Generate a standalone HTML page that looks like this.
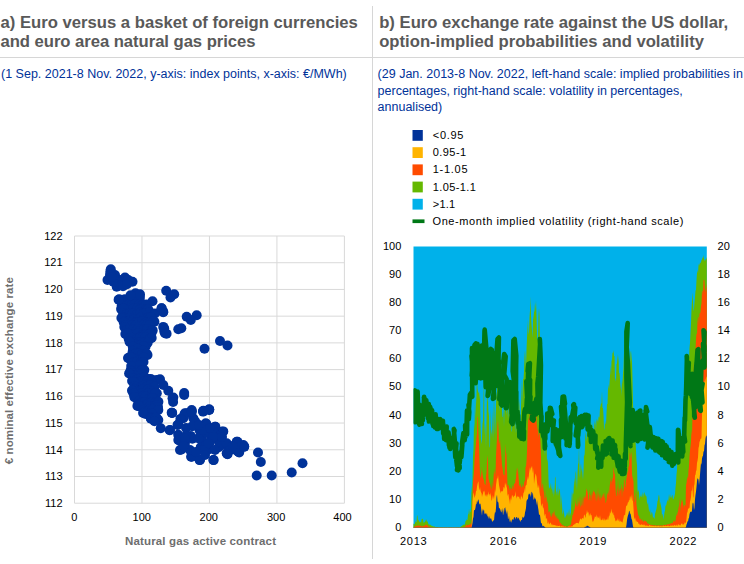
<!DOCTYPE html>
<html lang="en"><head><meta charset="utf-8"><title>Chart</title>
<style>html,body{margin:0;padding:0;background:#fff}svg{display:block}text{font-family:"Liberation Sans",Arial,sans-serif}.t{font-weight:bold;font-size:16.67px;fill:#595959}.s{font-size:12.5px;fill:#003299}.a{font-size:11px;fill:#000}.b{font-size:11.5px;font-weight:bold;fill:#6e6e6e}</style></head><body>
<svg width="744" height="564" viewBox="0 0 744 564">
<rect width="744" height="564" fill="#fff"/>
<rect x="0" y="57" width="744" height="1" fill="#D6D6D6"/>
<rect x="372" y="6" width="1" height="553" fill="#D6D6D6"/>
<text x="0.5" y="28" class="t">a) Euro versus a basket of foreign currencies</text>
<text x="0.5" y="46.5" class="t" textLength="255" lengthAdjust="spacing">and euro area natural gas prices</text>
<text x="379.2" y="28" class="t">b) Euro exchange rate against the US dollar,</text>
<text x="379.2" y="46.5" class="t">option-implied probabilities and volatility</text>
<text x="1" y="78" class="s">(1 Sep. 2021-8 Nov. 2022, y-axis: index points, x-axis: €/MWh)</text>
<text x="377.6" y="78" class="s">(29 Jan. 2013-8 Nov. 2022, left-hand scale: implied probabilities in</text>
<text x="377.6" y="94.6" class="s">percentages, right-hand scale: volatility in percentages,</text>
<text x="377.6" y="110.6" class="s">annualised)</text>
<rect x="74.50" y="235.50" width="269.90" height="1" fill="#D9D9D9"/>
<text x="62.6" y="239.7" class="a" text-anchor="end">122</text>
<rect x="74.50" y="262.22" width="269.90" height="1" fill="#D9D9D9"/>
<text x="62.6" y="266.4" class="a" text-anchor="end">121</text>
<rect x="74.50" y="288.94" width="269.90" height="1" fill="#D9D9D9"/>
<text x="62.6" y="293.1" class="a" text-anchor="end">120</text>
<rect x="74.50" y="315.66" width="269.90" height="1" fill="#D9D9D9"/>
<text x="62.6" y="319.9" class="a" text-anchor="end">119</text>
<rect x="74.50" y="342.38" width="269.90" height="1" fill="#D9D9D9"/>
<text x="62.6" y="346.6" class="a" text-anchor="end">118</text>
<rect x="74.50" y="369.10" width="269.90" height="1" fill="#D9D9D9"/>
<text x="62.6" y="373.3" class="a" text-anchor="end">117</text>
<rect x="74.50" y="395.82" width="269.90" height="1" fill="#D9D9D9"/>
<text x="62.6" y="400.0" class="a" text-anchor="end">116</text>
<rect x="74.50" y="422.54" width="269.90" height="1" fill="#D9D9D9"/>
<text x="62.6" y="426.7" class="a" text-anchor="end">115</text>
<rect x="74.50" y="449.26" width="269.90" height="1" fill="#D9D9D9"/>
<text x="62.6" y="453.5" class="a" text-anchor="end">114</text>
<rect x="74.50" y="475.98" width="269.90" height="1" fill="#D9D9D9"/>
<text x="62.6" y="480.2" class="a" text-anchor="end">113</text>
<rect x="74.50" y="502.70" width="269.90" height="1" fill="#D9D9D9"/>
<text x="62.6" y="506.9" class="a" text-anchor="end">112</text>
<rect x="74.00" y="236.00" width="1" height="267.20" fill="#D9D9D9"/>
<text x="74.2" y="520.6" class="a" text-anchor="middle">0</text>
<rect x="141.47" y="236.00" width="1" height="267.20" fill="#D9D9D9"/>
<text x="141.7" y="520.6" class="a" text-anchor="middle">100</text>
<rect x="208.95" y="236.00" width="1" height="267.20" fill="#D9D9D9"/>
<text x="208.7" y="520.6" class="a" text-anchor="middle">200</text>
<rect x="276.42" y="236.00" width="1" height="267.20" fill="#D9D9D9"/>
<text x="276.1" y="520.6" class="a" text-anchor="middle">300</text>
<rect x="343.90" y="236.00" width="1" height="267.20" fill="#D9D9D9"/>
<text x="342.5" y="520.6" class="a" text-anchor="middle">400</text>
<g fill="#003299">
<circle cx="110.8" cy="269.2" r="5"/>
<circle cx="107.5" cy="280.0" r="5"/>
<circle cx="110.0" cy="275.0" r="5"/>
<circle cx="116.7" cy="286.7" r="5"/>
<circle cx="125.0" cy="277.5" r="5"/>
<circle cx="120.0" cy="280.0" r="5"/>
<circle cx="132.5" cy="281.7" r="5"/>
<circle cx="128.3" cy="280.0" r="5"/>
<circle cx="113.3" cy="281.7" r="5"/>
<circle cx="115.0" cy="275.0" r="5"/>
<circle cx="121.7" cy="285.0" r="5"/>
<circle cx="166.2" cy="290.8" r="5"/>
<circle cx="174.2" cy="294.2" r="5"/>
<circle cx="170.5" cy="297.5" r="5"/>
<circle cx="152.5" cy="301.2" r="5"/>
<circle cx="161.7" cy="308.3" r="5"/>
<circle cx="163.3" cy="311.7" r="5"/>
<circle cx="186.7" cy="316.7" r="5"/>
<circle cx="196.7" cy="315.3" r="5"/>
<circle cx="190.8" cy="320.0" r="5"/>
<circle cx="181.3" cy="328.3" r="5"/>
<circle cx="178.3" cy="329.2" r="5"/>
<circle cx="164.2" cy="328.3" r="5"/>
<circle cx="165.0" cy="333.3" r="5"/>
<circle cx="204.5" cy="348.8" r="5"/>
<circle cx="128.0" cy="358.0" r="5"/>
<circle cx="147.5" cy="355.0" r="5"/>
<circle cx="160.0" cy="379.2" r="5"/>
<circle cx="156.7" cy="380.0" r="5"/>
<circle cx="184.2" cy="393.0" r="5"/>
<circle cx="173.3" cy="397.5" r="5"/>
<circle cx="168.3" cy="390.8" r="5"/>
<circle cx="163.3" cy="385.0" r="5"/>
<circle cx="171.7" cy="412.8" r="5"/>
<circle cx="191.7" cy="410.0" r="5"/>
<circle cx="186.7" cy="413.3" r="5"/>
<circle cx="203.3" cy="410.8" r="5"/>
<circle cx="209.2" cy="409.2" r="5"/>
<circle cx="183.3" cy="418.3" r="5"/>
<circle cx="193.3" cy="418.3" r="5"/>
<circle cx="172.5" cy="398.3" r="5"/>
<circle cx="184.2" cy="395.0" r="5"/>
<circle cx="172.2" cy="413.0" r="5"/>
<circle cx="203.3" cy="411.2" r="5"/>
<circle cx="209.2" cy="409.7" r="5"/>
<circle cx="191.7" cy="411.7" r="5"/>
<circle cx="184.2" cy="415.0" r="5"/>
<circle cx="160.8" cy="428.3" r="5"/>
<circle cx="170.0" cy="430.0" r="5"/>
<circle cx="150.8" cy="417.5" r="5"/>
<circle cx="158.3" cy="420.0" r="5"/>
<circle cx="180.0" cy="450.0" r="5"/>
<circle cx="178.3" cy="440.0" r="5"/>
<circle cx="177.5" cy="425.0" r="5"/>
<circle cx="191.7" cy="456.7" r="5"/>
<circle cx="200.0" cy="460.0" r="5"/>
<circle cx="213.3" cy="460.0" r="5"/>
<circle cx="226.7" cy="453.3" r="5"/>
<circle cx="236.7" cy="441.7" r="5"/>
<circle cx="238.3" cy="451.7" r="5"/>
<circle cx="243.3" cy="445.0" r="5"/>
<circle cx="221.7" cy="431.7" r="5"/>
<circle cx="215.0" cy="426.7" r="5"/>
<circle cx="205.8" cy="423.3" r="5"/>
<circle cx="302.5" cy="463.3" r="5"/>
<circle cx="291.7" cy="472.5" r="5"/>
<circle cx="271.7" cy="475.5" r="5"/>
<circle cx="256.7" cy="475.5" r="5"/>
<circle cx="260.8" cy="462.0" r="5"/>
<circle cx="258.0" cy="452.5" r="5"/>
<circle cx="244.2" cy="446.7" r="5"/>
<circle cx="237.5" cy="441.7" r="5"/>
<circle cx="239.2" cy="452.5" r="5"/>
<circle cx="235.8" cy="450.0" r="5"/>
<circle cx="227.5" cy="454.2" r="5"/>
<circle cx="227.5" cy="445.0" r="5"/>
<circle cx="222.5" cy="431.7" r="5"/>
<circle cx="220.0" cy="445.0" r="5"/>
<circle cx="220.0" cy="436.7" r="5"/>
<circle cx="135.5" cy="293.3" r="5"/>
<circle cx="132.2" cy="296.0" r="5"/>
<circle cx="135.5" cy="296.7" r="5"/>
<circle cx="139.9" cy="297.0" r="5"/>
<circle cx="130.6" cy="296.9" r="5"/>
<circle cx="138.4" cy="296.2" r="5"/>
<circle cx="121.9" cy="300.8" r="5"/>
<circle cx="124.8" cy="299.3" r="5"/>
<circle cx="129.0" cy="301.1" r="5"/>
<circle cx="132.3" cy="299.8" r="5"/>
<circle cx="136.4" cy="298.9" r="5"/>
<circle cx="139.6" cy="299.5" r="5"/>
<circle cx="119.2" cy="299.2" r="5"/>
<circle cx="121.7" cy="305.8" r="5"/>
<circle cx="124.9" cy="305.2" r="5"/>
<circle cx="129.0" cy="304.7" r="5"/>
<circle cx="132.3" cy="304.0" r="5"/>
<circle cx="134.9" cy="304.3" r="5"/>
<circle cx="139.3" cy="304.8" r="5"/>
<circle cx="142.1" cy="305.2" r="5"/>
<circle cx="146.3" cy="304.6" r="5"/>
<circle cx="123.5" cy="309.5" r="5"/>
<circle cx="126.0" cy="309.2" r="5"/>
<circle cx="129.8" cy="309.9" r="5"/>
<circle cx="133.6" cy="308.5" r="5"/>
<circle cx="137.4" cy="308.1" r="5"/>
<circle cx="139.9" cy="309.6" r="5"/>
<circle cx="142.8" cy="309.0" r="5"/>
<circle cx="146.1" cy="309.4" r="5"/>
<circle cx="121.1" cy="309.1" r="5"/>
<circle cx="123.3" cy="308.6" r="5"/>
<circle cx="148.1" cy="309.2" r="5"/>
<circle cx="123.1" cy="312.9" r="5"/>
<circle cx="126.9" cy="314.1" r="5"/>
<circle cx="129.8" cy="313.4" r="5"/>
<circle cx="132.5" cy="313.5" r="5"/>
<circle cx="136.8" cy="314.2" r="5"/>
<circle cx="140.5" cy="312.5" r="5"/>
<circle cx="143.2" cy="313.4" r="5"/>
<circle cx="146.0" cy="312.9" r="5"/>
<circle cx="149.7" cy="312.1" r="5"/>
<circle cx="154.9" cy="313.5" r="5"/>
<circle cx="123.4" cy="317.4" r="5"/>
<circle cx="127.2" cy="318.9" r="5"/>
<circle cx="130.1" cy="317.9" r="5"/>
<circle cx="134.3" cy="318.9" r="5"/>
<circle cx="138.1" cy="318.9" r="5"/>
<circle cx="140.6" cy="317.8" r="5"/>
<circle cx="144.2" cy="318.9" r="5"/>
<circle cx="148.5" cy="317.2" r="5"/>
<circle cx="150.7" cy="317.4" r="5"/>
<circle cx="121.4" cy="318.0" r="5"/>
<circle cx="125.1" cy="321.4" r="5"/>
<circle cx="127.6" cy="321.8" r="5"/>
<circle cx="131.6" cy="322.2" r="5"/>
<circle cx="135.9" cy="322.5" r="5"/>
<circle cx="138.6" cy="322.3" r="5"/>
<circle cx="142.3" cy="320.9" r="5"/>
<circle cx="146.0" cy="322.7" r="5"/>
<circle cx="149.4" cy="322.7" r="5"/>
<circle cx="154.4" cy="321.8" r="5"/>
<circle cx="123.7" cy="322.3" r="5"/>
<circle cx="153.4" cy="321.1" r="5"/>
<circle cx="125.5" cy="325.2" r="5"/>
<circle cx="129.1" cy="324.9" r="5"/>
<circle cx="132.0" cy="325.2" r="5"/>
<circle cx="135.6" cy="325.7" r="5"/>
<circle cx="138.8" cy="326.9" r="5"/>
<circle cx="143.2" cy="325.2" r="5"/>
<circle cx="146.0" cy="325.6" r="5"/>
<circle cx="149.6" cy="325.1" r="5"/>
<circle cx="124.3" cy="327.0" r="5"/>
<circle cx="126.9" cy="330.0" r="5"/>
<circle cx="129.7" cy="329.0" r="5"/>
<circle cx="133.5" cy="329.4" r="5"/>
<circle cx="137.7" cy="329.2" r="5"/>
<circle cx="139.8" cy="331.1" r="5"/>
<circle cx="144.0" cy="329.2" r="5"/>
<circle cx="147.5" cy="328.9" r="5"/>
<circle cx="150.8" cy="331.1" r="5"/>
<circle cx="152.7" cy="330.4" r="5"/>
<circle cx="127.6" cy="333.7" r="5"/>
<circle cx="130.9" cy="334.7" r="5"/>
<circle cx="134.9" cy="334.7" r="5"/>
<circle cx="137.9" cy="333.3" r="5"/>
<circle cx="142.1" cy="335.2" r="5"/>
<circle cx="145.6" cy="334.7" r="5"/>
<circle cx="148.9" cy="334.6" r="5"/>
<circle cx="125.3" cy="334.0" r="5"/>
<circle cx="127.2" cy="333.1" r="5"/>
<circle cx="151.4" cy="333.6" r="5"/>
<circle cx="128.6" cy="338.5" r="5"/>
<circle cx="133.1" cy="337.9" r="5"/>
<circle cx="136.5" cy="339.2" r="5"/>
<circle cx="139.9" cy="337.7" r="5"/>
<circle cx="142.2" cy="337.3" r="5"/>
<circle cx="145.5" cy="337.3" r="5"/>
<circle cx="149.6" cy="339.0" r="5"/>
<circle cx="151.7" cy="338.0" r="5"/>
<circle cx="131.2" cy="342.7" r="5"/>
<circle cx="133.7" cy="342.4" r="5"/>
<circle cx="138.5" cy="342.7" r="5"/>
<circle cx="141.6" cy="341.9" r="5"/>
<circle cx="144.1" cy="342.7" r="5"/>
<circle cx="147.7" cy="342.7" r="5"/>
<circle cx="129.5" cy="341.8" r="5"/>
<circle cx="133.8" cy="347.1" r="5"/>
<circle cx="137.8" cy="345.2" r="5"/>
<circle cx="140.2" cy="345.2" r="5"/>
<circle cx="145.6" cy="346.6" r="5"/>
<circle cx="132.8" cy="346.7" r="5"/>
<circle cx="143.5" cy="346.3" r="5"/>
<circle cx="134.8" cy="350.1" r="5"/>
<circle cx="137.8" cy="348.8" r="5"/>
<circle cx="142.6" cy="350.4" r="5"/>
<circle cx="132.8" cy="350.9" r="5"/>
<circle cx="131.9" cy="354.9" r="5"/>
<circle cx="135.9" cy="353.3" r="5"/>
<circle cx="138.4" cy="353.5" r="5"/>
<circle cx="141.8" cy="354.2" r="5"/>
<circle cx="146.6" cy="353.8" r="5"/>
<circle cx="130.4" cy="359.0" r="5"/>
<circle cx="134.2" cy="357.9" r="5"/>
<circle cx="137.9" cy="359.0" r="5"/>
<circle cx="141.1" cy="359.0" r="5"/>
<circle cx="128.8" cy="358.1" r="5"/>
<circle cx="130.5" cy="357.0" r="5"/>
<circle cx="143.6" cy="357.4" r="5"/>
<circle cx="133.2" cy="362.7" r="5"/>
<circle cx="136.9" cy="361.9" r="5"/>
<circle cx="141.2" cy="362.1" r="5"/>
<circle cx="143.5" cy="362.0" r="5"/>
<circle cx="133.1" cy="366.7" r="5"/>
<circle cx="135.8" cy="366.1" r="5"/>
<circle cx="139.4" cy="365.5" r="5"/>
<circle cx="131.2" cy="366.0" r="5"/>
<circle cx="131.1" cy="370.6" r="5"/>
<circle cx="135.1" cy="369.9" r="5"/>
<circle cx="138.0" cy="370.0" r="5"/>
<circle cx="141.2" cy="370.5" r="5"/>
<circle cx="144.3" cy="370.1" r="5"/>
<circle cx="130.5" cy="370.9" r="5"/>
<circle cx="142.1" cy="370.8" r="5"/>
<circle cx="132.7" cy="373.4" r="5"/>
<circle cx="135.5" cy="375.1" r="5"/>
<circle cx="139.3" cy="373.1" r="5"/>
<circle cx="141.6" cy="373.9" r="5"/>
<circle cx="129.1" cy="373.5" r="5"/>
<circle cx="133.3" cy="378.4" r="5"/>
<circle cx="137.9" cy="379.0" r="5"/>
<circle cx="140.2" cy="378.5" r="5"/>
<circle cx="144.5" cy="377.1" r="5"/>
<circle cx="148.2" cy="379.1" r="5"/>
<circle cx="150.7" cy="378.9" r="5"/>
<circle cx="133.8" cy="382.0" r="5"/>
<circle cx="138.2" cy="382.8" r="5"/>
<circle cx="140.3" cy="381.8" r="5"/>
<circle cx="144.2" cy="381.6" r="5"/>
<circle cx="147.1" cy="381.6" r="5"/>
<circle cx="132.1" cy="381.0" r="5"/>
<circle cx="133.6" cy="381.9" r="5"/>
<circle cx="151.5" cy="381.7" r="5"/>
<circle cx="134.2" cy="386.0" r="5"/>
<circle cx="136.7" cy="387.2" r="5"/>
<circle cx="141.3" cy="387.1" r="5"/>
<circle cx="143.6" cy="385.4" r="5"/>
<circle cx="146.9" cy="386.7" r="5"/>
<circle cx="150.6" cy="385.1" r="5"/>
<circle cx="154.4" cy="386.8" r="5"/>
<circle cx="134.5" cy="389.4" r="5"/>
<circle cx="136.8" cy="391.0" r="5"/>
<circle cx="140.9" cy="390.5" r="5"/>
<circle cx="143.5" cy="388.9" r="5"/>
<circle cx="147.9" cy="389.8" r="5"/>
<circle cx="150.3" cy="391.1" r="5"/>
<circle cx="132.0" cy="390.6" r="5"/>
<circle cx="134.3" cy="394.9" r="5"/>
<circle cx="137.7" cy="394.9" r="5"/>
<circle cx="141.7" cy="393.6" r="5"/>
<circle cx="145.3" cy="395.0" r="5"/>
<circle cx="148.2" cy="393.1" r="5"/>
<circle cx="152.0" cy="393.4" r="5"/>
<circle cx="156.8" cy="393.3" r="5"/>
<circle cx="133.6" cy="393.4" r="5"/>
<circle cx="154.9" cy="393.6" r="5"/>
<circle cx="136.4" cy="397.5" r="5"/>
<circle cx="139.4" cy="397.2" r="5"/>
<circle cx="142.6" cy="396.8" r="5"/>
<circle cx="145.8" cy="396.8" r="5"/>
<circle cx="150.0" cy="398.1" r="5"/>
<circle cx="152.5" cy="397.9" r="5"/>
<circle cx="134.4" cy="397.2" r="5"/>
<circle cx="138.5" cy="401.8" r="5"/>
<circle cx="141.4" cy="402.8" r="5"/>
<circle cx="144.6" cy="402.0" r="5"/>
<circle cx="148.5" cy="403.2" r="5"/>
<circle cx="151.3" cy="402.8" r="5"/>
<circle cx="155.3" cy="402.3" r="5"/>
<circle cx="158.4" cy="401.7" r="5"/>
<circle cx="139.3" cy="405.1" r="5"/>
<circle cx="142.7" cy="406.6" r="5"/>
<circle cx="146.4" cy="405.2" r="5"/>
<circle cx="149.5" cy="406.8" r="5"/>
<circle cx="154.2" cy="406.4" r="5"/>
<circle cx="156.7" cy="405.4" r="5"/>
<circle cx="137.4" cy="405.9" r="5"/>
<circle cx="138.8" cy="405.9" r="5"/>
<circle cx="158.0" cy="406.9" r="5"/>
<circle cx="143.8" cy="410.1" r="5"/>
<circle cx="146.0" cy="411.1" r="5"/>
<circle cx="149.5" cy="409.7" r="5"/>
<circle cx="152.4" cy="409.7" r="5"/>
<circle cx="158.3" cy="410.0" r="5"/>
<circle cx="145.5" cy="414.0" r="5"/>
<circle cx="148.6" cy="413.4" r="5"/>
<circle cx="152.1" cy="413.8" r="5"/>
<circle cx="143.1" cy="413.0" r="5"/>
<circle cx="150.7" cy="417.4" r="5"/>
<circle cx="154.5" cy="418.1" r="5"/>
<circle cx="156.9" cy="418.3" r="5"/>
<circle cx="150.9" cy="418.8" r="5"/>
<circle cx="155.7" cy="417.7" r="5"/>
<circle cx="154.5" cy="421.3" r="5"/>
<circle cx="172.0" cy="412.7" r="5"/>
<circle cx="173.1" cy="402.0" r="5"/>
<circle cx="169.7" cy="430.2" r="5"/>
<circle cx="184.9" cy="413.3" r="5"/>
<circle cx="191.7" cy="411.6" r="5"/>
<circle cx="203.0" cy="411.6" r="5"/>
<circle cx="209.2" cy="409.9" r="5"/>
<circle cx="180.4" cy="418.9" r="5"/>
<circle cx="178.2" cy="424.6" r="5"/>
<circle cx="195.1" cy="421.2" r="5"/>
<circle cx="206.4" cy="424.0" r="5"/>
<circle cx="215.4" cy="426.8" r="5"/>
<circle cx="223.3" cy="431.4" r="5"/>
<circle cx="178.2" cy="434.7" r="5"/>
<circle cx="179.3" cy="440.4" r="5"/>
<circle cx="181.5" cy="449.4" r="5"/>
<circle cx="184.9" cy="443.8" r="5"/>
<circle cx="190.6" cy="435.9" r="5"/>
<circle cx="199.6" cy="430.2" r="5"/>
<circle cx="201.9" cy="439.3" r="5"/>
<circle cx="200.7" cy="447.2" r="5"/>
<circle cx="208.6" cy="449.4" r="5"/>
<circle cx="210.9" cy="435.9" r="5"/>
<circle cx="216.5" cy="439.3" r="5"/>
<circle cx="218.8" cy="447.2" r="5"/>
<circle cx="227.8" cy="447.2" r="5"/>
<circle cx="227.3" cy="453.9" r="5"/>
<circle cx="236.9" cy="442.6" r="5"/>
<circle cx="238.6" cy="451.7" r="5"/>
<circle cx="244.2" cy="446.6" r="5"/>
<circle cx="191.1" cy="456.8" r="5"/>
<circle cx="199.6" cy="460.1" r="5"/>
<circle cx="213.7" cy="460.1" r="5"/>
<circle cx="206.4" cy="444.9" r="5"/>
<circle cx="186.1" cy="428.0" r="5"/>
<circle cx="192.3" cy="426.3" r="5"/>
<circle cx="192.3" cy="438.7" r="5"/>
<circle cx="213.2" cy="431.4" r="5"/>
<circle cx="219.9" cy="435.9" r="5"/>
<circle cx="205.3" cy="432.5" r="5"/>
<circle cx="186.1" cy="435.9" r="5"/>
<circle cx="209.8" cy="442.6" r="5"/>
<circle cx="222.2" cy="441.5" r="5"/>
<circle cx="220.0" cy="341.0" r="5"/>
<circle cx="227.5" cy="345.5" r="5"/>
<circle cx="118.6" cy="299.8" r="5"/>
<circle cx="130.5" cy="295.3" r="5"/>
<circle cx="140.0" cy="294.2" r="5"/>
<circle cx="161.5" cy="308.3" r="5"/>
<circle cx="163.2" cy="312.2" r="5"/>
<circle cx="164.3" cy="331.4" r="5"/>
<circle cx="163.2" cy="326.9" r="5"/>
<circle cx="166.6" cy="333.7" r="5"/>
<circle cx="190.0" cy="450.0" r="5"/>
<circle cx="220.0" cy="445.0" r="5"/>
<circle cx="213.3" cy="436.7" r="5"/>
<circle cx="203.3" cy="450.0" r="5"/>
<circle cx="198.3" cy="438.3" r="5"/>
<circle cx="226.7" cy="443.3" r="5"/>
<circle cx="185.0" cy="438.3" r="5"/>
<circle cx="208.3" cy="443.3" r="5"/>
<circle cx="215.0" cy="450.0" r="5"/>
<circle cx="230.0" cy="450.0" r="5"/>
<circle cx="203.0" cy="430.0" r="5"/>
<circle cx="199.0" cy="425.0" r="5"/>
<circle cx="210.0" cy="428.0" r="5"/>
<circle cx="222.0" cy="437.0" r="5"/>
<circle cx="233.0" cy="446.0" r="5"/>
<circle cx="205.0" cy="455.0" r="5"/>
<circle cx="196.0" cy="452.0" r="5"/>
<circle cx="184.0" cy="446.0" r="5"/>
<circle cx="123.0" cy="286.3" r="5"/>
<circle cx="127.0" cy="284.2" r="5"/>
<circle cx="110.3" cy="271.8" r="5"/>
<circle cx="112.0" cy="277.0" r="5"/>
</g>
<text x="200.5" y="545" class="b" text-anchor="middle" textLength="151" lengthAdjust="spacing">Natural gas active contract</text>
<text class="b" text-anchor="middle" textLength="187" lengthAdjust="spacing" transform="translate(13.2,370.7) rotate(-90)">€ nominal effective exchange rate</text>
<rect x="413.5" y="246.5" width="293.3" height="281.29999999999995" fill="#00B1EA"/>
<path d="M413.5,527.8L413.5,523.7L414.0,523.7L414.5,524.6L415.0,523.6L415.5,520.7L416.0,522.6L416.5,521.9L417.0,515.6L417.5,515.6L418.0,520.9L418.5,519.6L419.0,520.5L419.5,522.2L420.0,521.8L420.5,521.9L421.0,523.0L421.5,519.5L422.0,518.8L422.5,519.0L423.0,518.4L423.5,523.5L424.0,521.8L424.5,522.8L425.0,521.7L425.5,520.9L426.0,519.2L426.5,520.0L427.0,522.1L427.5,520.9L428.0,522.7L428.5,524.5L429.0,524.0L429.5,524.8L430.0,525.2L430.5,524.5L431.0,525.4L431.5,525.7L432.0,525.8L432.5,526.0L433.0,526.5L433.5,526.6L434.0,526.2L434.5,526.6L435.0,527.0L435.5,527.1L436.0,527.1L436.5,527.0L437.0,527.1L437.5,527.1L438.0,527.1L438.5,527.2L439.0,527.3L439.5,527.3L440.0,527.3L440.5,527.2L441.0,527.3L441.5,527.2L442.0,527.3L442.5,527.3L443.0,527.3L443.5,527.4L444.0,527.3L444.5,527.3L445.0,527.4L445.5,527.3L446.0,527.4L446.5,527.3L447.0,527.3L447.5,527.4L448.0,527.4L448.5,527.3L449.0,527.2L449.5,527.3L450.0,527.3L450.5,527.4L451.0,527.3L451.5,527.3L452.0,527.4L452.5,527.4L453.0,527.3L453.5,527.4L454.0,527.2L454.5,527.4L455.0,527.4L455.5,527.4L456.0,527.3L456.5,527.3L457.0,527.4L457.5,527.3L458.0,527.3L458.5,527.3L459.0,527.3L459.5,527.4L460.0,527.2L460.5,526.7L461.0,526.7L461.5,526.0L462.0,525.9L462.5,525.2L463.0,525.3L463.5,524.7L464.0,524.3L464.5,524.8L465.0,524.3L465.5,520.6L466.0,521.6L466.5,518.9L467.0,520.0L467.5,519.9L468.0,514.4L468.5,514.0L469.0,508.9L469.5,516.3L470.0,508.0L470.5,512.2L471.0,511.7L471.5,485.6L472.0,493.1L472.5,479.7L473.0,456.2L473.5,448.6L474.0,423.0L474.5,429.2L475.0,396.1L475.5,418.8L476.0,404.2L476.5,395.3L477.0,370.2L477.5,388.2L478.0,391.2L478.5,393.6L479.0,391.2L479.5,399.5L480.0,390.9L480.5,424.9L481.0,439.5L481.5,444.2L482.0,438.4L482.5,423.9L483.0,420.2L483.5,397.9L484.0,371.7L484.5,435.5L485.0,423.5L485.5,429.7L486.0,448.1L486.5,421.8L487.0,393.5L487.5,402.2L488.0,395.9L488.5,416.1L489.0,410.9L489.5,446.6L490.0,447.8L490.5,408.1L491.0,434.6L491.5,429.6L492.0,437.9L492.5,408.5L493.0,441.0L493.5,424.5L494.0,393.7L494.5,417.1L495.0,435.6L495.5,419.1L496.0,406.1L496.5,391.2L497.0,397.0L497.5,353.3L498.0,353.1L498.5,339.9L499.0,390.0L499.5,411.8L500.0,403.3L500.5,400.9L501.0,378.9L501.5,378.1L502.0,410.9L502.5,416.7L503.0,417.1L503.5,406.2L504.0,426.9L504.5,404.3L505.0,394.4L505.5,401.3L506.0,408.9L506.5,415.0L507.0,400.1L507.5,397.1L508.0,419.2L508.5,411.5L509.0,401.7L509.5,381.8L510.0,386.9L510.5,425.1L511.0,391.9L511.5,431.9L512.0,430.8L512.5,416.3L513.0,390.5L513.5,397.4L514.0,385.1L514.5,391.8L515.0,432.4L515.5,417.1L516.0,434.0L516.5,421.2L517.0,418.8L517.5,416.2L518.0,415.8L518.5,403.8L519.0,398.5L519.5,405.8L520.0,429.4L520.5,432.2L521.0,408.6L521.5,377.6L522.0,407.5L522.5,391.3L523.0,379.0L523.5,379.0L524.0,371.4L524.5,357.1L525.0,350.2L525.5,357.8L526.0,366.4L526.5,349.5L527.0,338.0L527.5,328.8L528.0,319.7L528.5,334.8L529.0,331.8L529.5,317.5L530.0,310.6L530.5,296.6L531.0,315.3L531.5,324.3L532.0,330.4L532.5,338.1L533.0,320.4L533.5,316.8L534.0,312.0L534.5,311.3L535.0,302.5L535.5,311.0L536.0,299.9L536.5,315.8L537.0,334.7L537.5,340.3L538.0,339.1L538.5,316.0L539.0,308.1L539.5,316.0L540.0,346.5L540.5,376.3L541.0,413.7L541.5,425.5L542.0,429.8L542.5,434.8L543.0,438.1L543.5,442.9L544.0,448.4L544.5,449.7L545.0,455.2L545.5,446.7L546.0,439.8L546.5,441.7L547.0,461.3L547.5,458.6L548.0,463.7L548.5,480.0L549.0,488.9L549.5,486.9L550.0,488.8L550.5,482.4L551.0,487.9L551.5,489.8L552.0,483.3L552.5,494.5L553.0,489.1L553.5,497.3L554.0,485.2L554.5,495.4L555.0,478.1L555.5,476.6L556.0,491.0L556.5,491.9L557.0,496.1L557.5,492.0L558.0,484.1L558.5,496.1L559.0,491.0L559.5,488.4L560.0,491.7L560.5,499.8L561.0,508.9L561.5,494.8L562.0,504.6L562.5,512.8L563.0,514.7L563.5,508.9L564.0,512.5L564.5,516.5L565.0,518.5L565.5,516.6L566.0,515.4L566.5,515.2L567.0,511.8L567.5,513.5L568.0,516.0L568.5,509.6L569.0,518.1L569.5,508.5L570.0,516.4L570.5,513.7L571.0,512.5L571.5,490.2L572.0,505.5L572.5,492.0L573.0,494.7L573.5,492.8L574.0,483.2L574.5,477.6L575.0,486.4L575.5,473.2L576.0,470.8L576.5,481.0L577.0,490.4L577.5,474.1L578.0,464.8L578.5,462.7L579.0,446.9L579.5,473.5L580.0,478.0L580.5,467.1L581.0,463.3L581.5,471.8L582.0,467.9L582.5,474.3L583.0,479.9L583.5,471.5L584.0,454.3L584.5,456.6L585.0,446.8L585.5,431.1L586.0,436.7L586.5,441.4L587.0,431.0L587.5,430.4L588.0,426.6L588.5,423.1L589.0,423.8L589.5,428.2L590.0,427.2L590.5,424.9L591.0,421.0L591.5,428.9L592.0,431.2L592.5,422.9L593.0,440.2L593.5,432.1L594.0,433.5L594.5,420.1L595.0,425.5L595.5,421.0L596.0,430.2L596.5,418.2L597.0,421.6L597.5,419.1L598.0,423.2L598.5,417.5L599.0,416.3L599.5,418.1L600.0,408.1L600.5,406.0L601.0,402.7L601.5,404.3L602.0,391.0L602.5,407.8L603.0,408.3L603.5,415.3L604.0,427.5L604.5,430.2L605.0,420.7L605.5,423.6L606.0,424.5L606.5,413.4L607.0,404.1L607.5,404.2L608.0,389.0L608.5,384.2L609.0,390.4L609.5,384.1L610.0,376.0L610.5,364.4L611.0,376.1L611.5,361.3L612.0,359.5L612.5,352.2L613.0,353.3L613.5,349.9L614.0,356.2L614.5,355.8L615.0,381.8L615.5,377.5L616.0,381.6L616.5,364.1L617.0,363.8L617.5,354.0L618.0,362.1L618.5,355.0L619.0,373.3L619.5,372.8L620.0,379.8L620.5,389.4L621.0,384.2L621.5,396.2L622.0,378.6L622.5,384.4L623.0,372.7L623.5,368.5L624.0,352.6L624.5,345.1L625.0,328.8L625.5,322.4L626.0,342.5L626.5,354.1L627.0,350.1L627.5,367.4L628.0,364.0L628.5,368.2L629.0,363.8L629.5,359.0L630.0,365.3L630.5,353.1L631.0,350.6L631.5,357.0L632.0,362.2L632.5,377.9L633.0,403.2L633.5,414.6L634.0,422.5L634.5,435.4L635.0,439.6L635.5,439.5L636.0,450.7L636.5,460.5L637.0,464.9L637.5,489.5L638.0,492.7L638.5,489.6L639.0,492.1L639.5,500.3L640.0,496.1L640.5,497.0L641.0,493.8L641.5,496.6L642.0,497.3L642.5,491.4L643.0,498.3L643.5,494.7L644.0,492.7L644.5,492.3L645.0,496.7L645.5,494.1L646.0,496.3L646.5,496.2L647.0,502.5L647.5,505.1L648.0,501.8L648.5,506.8L649.0,510.7L649.5,512.3L650.0,508.2L650.5,514.0L651.0,515.5L651.5,512.3L652.0,512.2L652.5,514.1L653.0,518.0L653.5,517.0L654.0,517.7L654.5,519.3L655.0,514.1L655.5,512.2L656.0,510.6L656.5,508.7L657.0,505.4L657.5,501.0L658.0,500.3L658.5,495.9L659.0,494.5L659.5,497.4L660.0,506.0L660.5,501.4L661.0,505.7L661.5,508.7L662.0,516.6L662.5,514.3L663.0,514.1L663.5,519.7L664.0,516.4L664.5,512.2L665.0,510.8L665.5,505.1L666.0,506.2L666.5,503.7L667.0,501.2L667.5,499.5L668.0,502.2L668.5,499.6L669.0,493.9L669.5,499.7L670.0,493.4L670.5,497.1L671.0,498.1L671.5,497.3L672.0,495.2L672.5,495.0L673.0,499.5L673.5,498.9L674.0,497.5L674.5,496.0L675.0,493.6L675.5,487.6L676.0,482.9L676.5,474.4L677.0,469.8L677.5,455.9L678.0,457.7L678.5,456.8L679.0,450.3L679.5,450.8L680.0,446.1L680.5,442.0L681.0,437.2L681.5,440.4L682.0,432.6L682.5,433.0L683.0,427.5L683.5,428.2L684.0,424.5L684.5,418.9L685.0,411.1L685.5,403.9L686.0,396.9L686.5,386.4L687.0,376.1L687.5,373.3L688.0,367.2L688.5,361.8L689.0,359.1L689.5,347.8L690.0,343.0L690.5,332.3L691.0,323.2L691.5,308.9L692.0,300.3L692.5,292.2L693.0,301.7L693.5,311.6L694.0,308.8L694.5,302.7L695.0,297.0L695.5,290.6L696.0,290.0L696.5,280.0L697.0,273.0L697.5,269.7L698.0,273.6L698.5,265.4L699.0,263.4L699.5,265.7L700.0,262.2L700.5,263.4L701.0,261.9L701.5,260.0L702.0,259.7L702.5,257.0L703.0,258.7L703.5,254.9L704.0,258.7L704.5,260.3L705.0,261.4L705.5,258.8L706.0,260.1L706.5,257.0L706.8,259.1L706.8,527.8Z" fill="#65B800"/>
<path d="M413.5,527.8L413.5,527.2L414.0,526.7L414.5,526.8L415.0,526.1L415.5,526.0L416.0,526.5L416.5,525.3L417.0,526.2L417.5,525.5L418.0,525.2L418.5,525.5L419.0,526.0L419.5,525.6L420.0,525.7L420.5,525.8L421.0,525.6L421.5,526.4L422.0,526.6L422.5,526.0L423.0,525.7L423.5,526.5L424.0,525.5L424.5,525.4L425.0,526.0L425.5,524.3L426.0,525.2L426.5,524.8L427.0,524.8L427.5,525.5L428.0,526.2L428.5,526.4L429.0,526.8L429.5,526.6L430.0,527.0L430.5,527.0L431.0,527.2L431.5,527.2L432.0,527.3L432.5,527.5L433.0,527.5L433.5,527.5L434.0,527.5L434.5,527.5L435.0,527.5L435.5,527.5L436.0,527.4L436.5,527.6L437.0,527.5L437.5,527.5L438.0,527.5L438.5,527.4L439.0,527.6L439.5,527.5L440.0,527.6L440.5,527.4L441.0,527.5L441.5,527.6L442.0,527.4L442.5,527.4L443.0,527.5L443.5,527.5L444.0,527.5L444.5,527.5L445.0,527.4L445.5,527.5L446.0,527.5L446.5,527.5L447.0,527.5L447.5,527.5L448.0,527.5L448.5,527.5L449.0,527.5L449.5,527.5L450.0,527.5L450.5,527.5L451.0,527.5L451.5,527.5L452.0,527.5L452.5,527.5L453.0,527.5L453.5,527.5L454.0,527.5L454.5,527.5L455.0,527.5L455.5,527.5L456.0,527.5L456.5,527.6L457.0,527.5L457.5,527.6L458.0,527.5L458.5,527.4L459.0,527.5L459.5,527.6L460.0,527.5L460.5,527.5L461.0,527.5L461.5,527.6L462.0,527.5L462.5,527.5L463.0,527.4L463.5,527.0L464.0,526.8L464.5,526.7L465.0,526.7L465.5,526.2L466.0,525.2L466.5,525.1L467.0,524.2L467.5,525.7L468.0,525.2L468.5,524.8L469.0,525.1L469.5,524.2L470.0,524.5L470.5,522.9L471.0,524.5L471.5,524.3L472.0,514.1L472.5,499.8L473.0,481.8L473.5,477.2L474.0,471.5L474.5,460.4L475.0,454.0L475.5,448.2L476.0,443.5L476.5,437.5L477.0,433.0L477.5,416.2L478.0,417.6L478.5,434.2L479.0,443.9L479.5,460.6L480.0,473.8L480.5,478.2L481.0,476.6L481.5,466.3L482.0,476.1L482.5,469.9L483.0,477.7L483.5,479.5L484.0,479.6L484.5,483.6L485.0,484.5L485.5,485.2L486.0,475.8L486.5,472.8L487.0,461.2L487.5,455.0L488.0,461.9L488.5,478.8L489.0,480.0L489.5,482.7L490.0,483.0L490.5,486.3L491.0,488.1L491.5,490.2L492.0,480.0L492.5,484.9L493.0,488.0L493.5,477.7L494.0,470.7L494.5,474.7L495.0,467.0L495.5,478.0L496.0,455.2L496.5,446.7L497.0,437.9L497.5,424.9L498.0,419.7L498.5,429.8L499.0,444.2L499.5,442.2L500.0,439.3L500.5,446.8L501.0,451.4L501.5,458.2L502.0,464.9L502.5,467.7L503.0,471.7L503.5,474.7L504.0,475.1L504.5,475.6L505.0,464.1L505.5,443.6L506.0,452.6L506.5,454.0L507.0,469.8L507.5,485.5L508.0,485.2L508.5,484.4L509.0,486.8L509.5,488.5L510.0,491.3L510.5,486.5L511.0,488.8L511.5,489.8L512.0,487.7L512.5,484.5L513.0,489.8L513.5,487.7L514.0,483.4L514.5,483.3L515.0,484.0L515.5,479.2L516.0,479.0L516.5,467.5L517.0,474.8L517.5,467.3L518.0,471.1L518.5,476.7L519.0,483.4L519.5,485.9L520.0,485.2L520.5,482.9L521.0,487.9L521.5,486.0L522.0,487.7L522.5,483.3L523.0,487.5L523.5,486.3L524.0,483.6L524.5,480.4L525.0,482.1L525.5,466.8L526.0,466.7L526.5,461.1L527.0,451.3L527.5,434.9L528.0,420.5L528.5,419.7L529.0,417.7L529.5,418.6L530.0,400.1L530.5,403.2L531.0,410.4L531.5,415.6L532.0,406.1L532.5,419.3L533.0,416.2L533.5,409.6L534.0,405.7L534.5,403.6L535.0,402.7L535.5,409.4L536.0,405.7L536.5,419.0L537.0,427.6L537.5,431.5L538.0,423.3L538.5,437.8L539.0,433.3L539.5,432.8L540.0,436.2L540.5,443.5L541.0,455.7L541.5,486.2L542.0,488.9L542.5,484.2L543.0,483.2L543.5,489.8L544.0,492.4L544.5,502.3L545.0,488.4L545.5,497.8L546.0,498.6L546.5,495.1L547.0,505.6L547.5,500.5L548.0,503.2L548.5,512.7L549.0,512.0L549.5,510.8L550.0,512.4L550.5,517.2L551.0,512.8L551.5,517.5L552.0,516.1L552.5,513.5L553.0,512.7L553.5,511.2L554.0,516.4L554.5,508.9L555.0,518.2L555.5,514.8L556.0,516.0L556.5,518.9L557.0,515.3L557.5,519.6L558.0,518.3L558.5,519.1L559.0,520.4L559.5,521.4L560.0,523.6L560.5,522.6L561.0,522.9L561.5,524.8L562.0,524.2L562.5,525.2L563.0,525.5L563.5,525.2L564.0,526.0L564.5,526.3L565.0,526.0L565.5,526.4L566.0,526.6L566.5,526.4L567.0,526.5L567.5,526.8L568.0,526.3L568.5,526.0L569.0,525.4L569.5,525.6L570.0,525.1L570.5,525.0L571.0,524.4L571.5,520.6L572.0,518.9L572.5,515.1L573.0,514.8L573.5,513.1L574.0,508.5L574.5,511.4L575.0,506.0L575.5,499.6L576.0,507.5L576.5,503.0L577.0,507.5L577.5,504.9L578.0,496.7L578.5,506.4L579.0,500.4L579.5,504.4L580.0,494.7L580.5,507.4L581.0,505.8L581.5,505.1L582.0,495.9L582.5,501.9L583.0,506.8L583.5,498.8L584.0,495.2L584.5,499.3L585.0,495.4L585.5,498.5L586.0,491.7L586.5,488.2L587.0,490.5L587.5,491.5L588.0,494.4L588.5,499.8L589.0,500.0L589.5,489.0L590.0,495.5L590.5,494.5L591.0,501.8L591.5,496.1L592.0,490.9L592.5,496.2L593.0,492.0L593.5,489.9L594.0,492.5L594.5,491.3L595.0,493.2L595.5,493.9L596.0,501.9L596.5,497.9L597.0,489.6L597.5,501.5L598.0,487.5L598.5,498.5L599.0,492.8L599.5,501.6L600.0,492.0L600.5,501.5L601.0,494.6L601.5,498.8L602.0,497.4L602.5,495.7L603.0,493.9L603.5,493.0L604.0,497.4L604.5,497.9L605.0,491.1L605.5,502.9L606.0,502.5L606.5,500.0L607.0,495.4L607.5,493.5L608.0,493.3L608.5,489.7L609.0,497.0L609.5,488.1L610.0,483.5L610.5,476.6L611.0,485.5L611.5,479.5L612.0,482.1L612.5,477.5L613.0,478.5L613.5,466.9L614.0,470.7L614.5,473.8L615.0,474.6L615.5,486.5L616.0,495.7L616.5,496.3L617.0,484.6L617.5,493.6L618.0,478.3L618.5,491.5L619.0,496.5L619.5,487.1L620.0,491.3L620.5,489.4L621.0,487.9L621.5,483.4L622.0,497.9L622.5,487.5L623.0,490.4L623.5,492.0L624.0,480.5L624.5,479.2L625.0,487.7L625.5,487.1L626.0,480.7L626.5,478.1L627.0,475.9L627.5,470.8L628.0,473.1L628.5,465.8L629.0,467.5L629.5,455.3L630.0,452.0L630.5,460.5L631.0,451.5L631.5,454.5L632.0,474.7L632.5,477.0L633.0,479.5L633.5,481.6L634.0,500.9L634.5,502.3L635.0,492.3L635.5,500.6L636.0,490.3L636.5,505.0L637.0,507.9L637.5,511.0L638.0,514.2L638.5,516.2L639.0,515.4L639.5,519.0L640.0,518.5L640.5,518.4L641.0,519.9L641.5,520.9L642.0,518.4L642.5,520.3L643.0,521.1L643.5,521.8L644.0,521.6L644.5,520.1L645.0,521.2L645.5,521.0L646.0,521.5L646.5,521.8L647.0,522.4L647.5,523.5L648.0,523.7L648.5,523.4L649.0,524.6L649.5,524.3L650.0,524.9L650.5,524.8L651.0,524.5L651.5,525.0L652.0,525.2L652.5,525.1L653.0,525.2L653.5,525.4L654.0,525.3L654.5,525.2L655.0,525.6L655.5,525.5L656.0,525.6L656.5,525.7L657.0,525.6L657.5,525.5L658.0,525.5L658.5,525.6L659.0,525.4L659.5,525.4L660.0,525.6L660.5,525.4L661.0,525.3L661.5,525.6L662.0,525.6L662.5,525.7L663.0,525.3L663.5,525.3L664.0,524.9L664.5,524.8L665.0,524.9L665.5,524.8L666.0,525.2L666.5,524.7L667.0,524.0L667.5,524.4L668.0,524.6L668.5,524.0L669.0,524.4L669.5,523.4L670.0,524.6L670.5,523.4L671.0,523.2L671.5,523.3L672.0,522.4L672.5,523.4L673.0,521.9L673.5,520.0L674.0,522.2L674.5,521.3L675.0,519.5L675.5,521.9L676.0,516.3L676.5,513.9L677.0,516.5L677.5,512.6L678.0,512.1L678.5,508.0L679.0,505.8L679.5,497.5L680.0,513.1L680.5,506.5L681.0,503.7L681.5,498.5L682.0,504.0L682.5,499.5L683.0,501.9L683.5,508.9L684.0,504.4L684.5,505.4L685.0,505.2L685.5,507.0L686.0,485.0L686.5,483.2L687.0,478.8L687.5,476.1L688.0,479.6L688.5,470.3L689.0,465.9L689.5,456.2L690.0,450.5L690.5,446.6L691.0,441.8L691.5,429.3L692.0,435.3L692.5,415.7L693.0,394.9L693.5,381.9L694.0,361.9L694.5,371.2L695.0,363.1L695.5,349.4L696.0,339.4L696.5,333.0L697.0,334.8L697.5,321.7L698.0,317.6L698.5,316.7L699.0,326.0L699.5,313.6L700.0,313.4L700.5,311.9L701.0,305.8L701.5,303.2L702.0,291.0L702.5,290.6L703.0,295.2L703.5,280.5L704.0,279.6L704.5,280.9L705.0,292.8L705.5,287.5L706.0,292.3L706.5,283.4L706.8,287.4L706.8,527.8Z" fill="#FF4B00"/>
<path d="M413.5,527.8L413.5,527.5L414.0,527.5L414.5,527.5L415.0,527.6L415.5,527.5L416.0,527.6L416.5,527.5L417.0,527.5L417.5,527.5L418.0,527.4L418.5,527.4L419.0,527.4L419.5,527.5L420.0,527.5L420.5,527.5L421.0,527.6L421.5,527.5L422.0,527.6L422.5,527.4L423.0,527.5L423.5,527.5L424.0,527.4L424.5,527.5L425.0,527.5L425.5,527.5L426.0,527.6L426.5,527.5L427.0,527.4L427.5,527.4L428.0,527.5L428.5,527.6L429.0,527.5L429.5,527.5L430.0,527.6L430.5,527.6L431.0,527.5L431.5,527.5L432.0,527.5L432.5,527.6L433.0,527.6L433.5,527.5L434.0,527.5L434.5,527.5L435.0,527.5L435.5,527.5L436.0,527.4L436.5,527.6L437.0,527.5L437.5,527.5L438.0,527.5L438.5,527.4L439.0,527.6L439.5,527.5L440.0,527.6L440.5,527.4L441.0,527.5L441.5,527.6L442.0,527.4L442.5,527.4L443.0,527.5L443.5,527.5L444.0,527.5L444.5,527.5L445.0,527.4L445.5,527.5L446.0,527.5L446.5,527.5L447.0,527.5L447.5,527.5L448.0,527.5L448.5,527.5L449.0,527.5L449.5,527.5L450.0,527.5L450.5,527.5L451.0,527.5L451.5,527.5L452.0,527.5L452.5,527.5L453.0,527.5L453.5,527.5L454.0,527.5L454.5,527.5L455.0,527.5L455.5,527.5L456.0,527.5L456.5,527.6L457.0,527.5L457.5,527.6L458.0,527.5L458.5,527.4L459.0,527.5L459.5,527.6L460.0,527.5L460.5,527.5L461.0,527.5L461.5,527.6L462.0,527.5L462.5,527.5L463.0,527.6L463.5,527.6L464.0,527.5L464.5,527.6L465.0,527.5L465.5,527.4L466.0,527.5L466.5,527.6L467.0,527.4L467.5,527.5L468.0,527.4L468.5,527.5L469.0,527.5L469.5,527.5L470.0,527.6L470.5,527.4L471.0,527.4L471.5,527.5L472.0,517.8L472.5,501.2L473.0,496.2L473.5,492.3L474.0,494.5L474.5,497.9L475.0,496.4L475.5,494.4L476.0,491.3L476.5,490.7L477.0,486.5L477.5,484.0L478.0,482.2L478.5,481.3L479.0,488.5L479.5,490.5L480.0,486.8L480.5,490.5L481.0,492.4L481.5,492.9L482.0,496.9L482.5,494.7L483.0,493.7L483.5,490.8L484.0,492.3L484.5,490.3L485.0,496.2L485.5,494.0L486.0,497.1L486.5,493.8L487.0,497.6L487.5,493.8L488.0,495.4L488.5,491.2L489.0,494.3L489.5,493.9L490.0,496.2L490.5,492.6L491.0,495.8L491.5,500.7L492.0,500.1L492.5,494.6L493.0,499.8L493.5,495.5L494.0,498.9L494.5,494.6L495.0,488.9L495.5,493.0L496.0,484.9L496.5,481.8L497.0,478.1L497.5,479.1L498.0,474.9L498.5,480.1L499.0,485.1L499.5,487.4L500.0,490.0L500.5,493.6L501.0,491.2L501.5,491.1L502.0,492.3L502.5,490.7L503.0,491.1L503.5,487.2L504.0,486.9L504.5,489.0L505.0,482.0L505.5,485.8L506.0,482.9L506.5,486.7L507.0,487.9L507.5,496.2L508.0,494.1L508.5,494.4L509.0,498.4L509.5,500.2L510.0,504.5L510.5,497.3L511.0,500.7L511.5,498.4L512.0,495.0L512.5,495.6L513.0,496.8L513.5,497.4L514.0,495.5L514.5,496.1L515.0,495.6L515.5,491.1L516.0,496.6L516.5,498.7L517.0,495.4L517.5,496.4L518.0,497.3L518.5,496.8L519.0,496.2L519.5,498.2L520.0,499.2L520.5,499.8L521.0,494.9L521.5,496.6L522.0,497.3L522.5,499.2L523.0,496.0L523.5,492.8L524.0,492.4L524.5,487.6L525.0,492.2L525.5,486.3L526.0,485.2L526.5,484.9L527.0,480.4L527.5,478.8L528.0,476.1L528.5,479.7L529.0,473.4L529.5,470.2L530.0,467.0L530.5,470.7L531.0,467.4L531.5,467.7L532.0,465.5L532.5,470.0L533.0,473.5L533.5,467.9L534.0,484.1L534.5,479.9L535.0,476.8L535.5,473.4L536.0,474.7L536.5,476.7L537.0,482.3L537.5,485.7L538.0,488.4L538.5,486.4L539.0,484.5L539.5,491.8L540.0,495.3L540.5,496.5L541.0,504.5L541.5,506.6L542.0,503.7L542.5,503.4L543.0,508.7L543.5,506.9L544.0,510.4L544.5,516.2L545.0,514.2L545.5,513.9L546.0,519.4L546.5,518.5L547.0,517.7L547.5,523.2L548.0,523.8L548.5,520.9L549.0,524.5L549.5,524.0L550.0,523.0L550.5,522.6L551.0,523.5L551.5,525.2L552.0,523.6L552.5,525.5L553.0,524.6L553.5,525.3L554.0,525.0L554.5,525.1L555.0,525.6L555.5,525.0L556.0,526.2L556.5,526.1L557.0,525.1L557.5,526.3L558.0,526.1L558.5,526.0L559.0,526.1L559.5,525.6L560.0,526.2L560.5,526.4L561.0,526.7L561.5,526.0L562.0,526.4L562.5,526.4L563.0,526.3L563.5,526.8L564.0,526.4L564.5,526.9L565.0,526.7L565.5,526.5L566.0,527.0L566.5,527.0L567.0,527.2L567.5,527.0L568.0,526.7L568.5,526.6L569.0,526.7L569.5,526.6L570.0,526.6L570.5,526.4L571.0,526.9L571.5,526.3L572.0,526.2L572.5,526.5L573.0,525.3L573.5,524.8L574.0,525.0L574.5,523.8L575.0,524.5L575.5,523.5L576.0,523.1L576.5,523.1L577.0,522.7L577.5,522.9L578.0,523.1L578.5,523.8L579.0,522.4L579.5,520.9L580.0,519.2L580.5,518.3L581.0,519.5L581.5,519.6L582.0,518.3L582.5,518.2L583.0,518.1L583.5,519.1L584.0,514.9L584.5,514.5L585.0,516.5L585.5,517.9L586.0,514.2L586.5,513.5L587.0,510.1L587.5,512.6L588.0,512.8L588.5,512.0L589.0,516.8L589.5,513.6L590.0,516.3L590.5,512.7L591.0,515.5L591.5,514.8L592.0,518.4L592.5,521.4L593.0,521.7L593.5,520.9L594.0,519.2L594.5,518.1L595.0,515.9L595.5,517.1L596.0,517.1L596.5,514.3L597.0,518.8L597.5,516.0L598.0,517.6L598.5,518.3L599.0,515.9L599.5,519.7L600.0,515.0L600.5,518.8L601.0,520.6L601.5,520.1L602.0,519.4L602.5,520.0L603.0,517.6L603.5,520.3L604.0,520.4L604.5,518.1L605.0,521.3L605.5,519.5L606.0,519.7L606.5,519.2L607.0,519.9L607.5,519.2L608.0,516.0L608.5,520.4L609.0,514.9L609.5,516.6L610.0,510.9L610.5,513.7L611.0,512.2L611.5,508.5L612.0,512.2L612.5,513.9L613.0,511.5L613.5,515.5L614.0,514.4L614.5,517.7L615.0,518.6L615.5,521.4L616.0,520.7L616.5,520.1L617.0,521.6L617.5,518.1L618.0,520.8L618.5,520.7L619.0,518.2L619.5,521.4L620.0,521.7L620.5,520.5L621.0,522.0L621.5,521.8L622.0,521.6L622.5,522.9L623.0,519.9L623.5,518.1L624.0,515.2L624.5,514.8L625.0,515.7L625.5,511.6L626.0,506.4L626.5,505.6L627.0,505.8L627.5,503.9L628.0,502.1L628.5,502.5L629.0,499.7L629.5,500.8L630.0,495.7L630.5,497.2L631.0,500.2L631.5,497.3L632.0,494.1L632.5,500.5L633.0,500.9L633.5,507.9L634.0,517.3L634.5,519.5L635.0,517.0L635.5,519.3L636.0,521.9L636.5,520.3L637.0,522.3L637.5,521.7L638.0,521.9L638.5,524.2L639.0,523.2L639.5,524.6L640.0,524.9L640.5,524.9L641.0,524.3L641.5,524.3L642.0,524.9L642.5,524.8L643.0,524.8L643.5,524.6L644.0,525.8L644.5,524.2L645.0,525.4L645.5,525.7L646.0,525.5L646.5,525.6L647.0,525.7L647.5,525.7L648.0,525.4L648.5,526.2L649.0,525.6L649.5,525.1L650.0,525.5L650.5,525.5L651.0,526.3L651.5,525.4L652.0,526.0L652.5,526.0L653.0,525.7L653.5,525.9L654.0,526.0L654.5,526.2L655.0,526.0L655.5,525.8L656.0,525.9L656.5,526.2L657.0,526.3L657.5,526.0L658.0,526.2L658.5,525.7L659.0,526.1L659.5,526.5L660.0,525.9L660.5,526.0L661.0,526.4L661.5,525.9L662.0,526.5L662.5,526.2L663.0,525.4L663.5,525.8L664.0,526.3L664.5,525.9L665.0,525.9L665.5,525.6L666.0,526.0L666.5,526.0L667.0,526.2L667.5,525.6L668.0,525.8L668.5,525.6L669.0,526.4L669.5,525.9L670.0,525.9L670.5,525.6L671.0,525.6L671.5,525.8L672.0,525.7L672.5,525.8L673.0,524.8L673.5,526.0L674.0,525.7L674.5,524.8L675.0,525.3L675.5,525.9L676.0,524.9L676.5,525.8L677.0,524.1L677.5,525.9L678.0,525.5L678.5,524.0L679.0,524.7L679.5,525.4L680.0,524.8L680.5,525.7L681.0,524.2L681.5,523.8L682.0,523.0L682.5,524.2L683.0,525.2L683.5,524.1L684.0,524.4L684.5,523.1L685.0,522.1L685.5,523.5L686.0,522.2L686.5,518.6L687.0,513.1L687.5,511.9L688.0,509.1L688.5,508.7L689.0,507.5L689.5,508.6L690.0,501.4L690.5,499.9L691.0,497.1L691.5,490.0L692.0,491.6L692.5,485.3L693.0,496.2L693.5,497.9L694.0,485.9L694.5,484.0L695.0,475.6L695.5,474.7L696.0,471.3L696.5,469.9L697.0,463.0L697.5,460.7L698.0,457.6L698.5,448.0L699.0,446.3L699.5,441.7L700.0,441.1L700.5,438.6L701.0,439.3L701.5,437.3L702.0,415.2L702.5,388.0L703.0,390.3L703.5,385.1L704.0,385.9L704.5,380.1L705.0,382.5L705.5,379.8L706.0,378.2L706.5,376.3L706.8,377.6L706.8,527.8Z" fill="#FFB400"/>
<path d="M413.5,527.8L413.5,527.5L414.0,527.5L414.5,527.5L415.0,527.6L415.5,527.5L416.0,527.6L416.5,527.5L417.0,527.5L417.5,527.5L418.0,527.4L418.5,527.4L419.0,527.4L419.5,527.5L420.0,527.5L420.5,527.5L421.0,527.6L421.5,527.5L422.0,527.6L422.5,527.4L423.0,527.5L423.5,527.5L424.0,527.4L424.5,527.5L425.0,527.5L425.5,527.5L426.0,527.6L426.5,527.5L427.0,527.4L427.5,527.4L428.0,527.5L428.5,527.6L429.0,527.5L429.5,527.5L430.0,527.6L430.5,527.6L431.0,527.5L431.5,527.5L432.0,527.5L432.5,527.6L433.0,527.6L433.5,527.5L434.0,527.5L434.5,527.5L435.0,527.5L435.5,527.5L436.0,527.4L436.5,527.6L437.0,527.5L437.5,527.5L438.0,527.5L438.5,527.4L439.0,527.6L439.5,527.5L440.0,527.6L440.5,527.4L441.0,527.5L441.5,527.6L442.0,527.4L442.5,527.4L443.0,527.5L443.5,527.5L444.0,527.5L444.5,527.5L445.0,527.4L445.5,527.5L446.0,527.5L446.5,527.5L447.0,527.5L447.5,527.5L448.0,527.5L448.5,527.5L449.0,527.5L449.5,527.5L450.0,527.5L450.5,527.5L451.0,527.5L451.5,527.5L452.0,527.5L452.5,527.5L453.0,527.5L453.5,527.5L454.0,527.5L454.5,527.5L455.0,527.5L455.5,527.5L456.0,527.5L456.5,527.6L457.0,527.5L457.5,527.6L458.0,527.5L458.5,527.4L459.0,527.5L459.5,527.6L460.0,527.5L460.5,527.5L461.0,527.5L461.5,527.6L462.0,527.5L462.5,527.5L463.0,527.6L463.5,527.6L464.0,527.5L464.5,527.6L465.0,527.5L465.5,527.4L466.0,527.5L466.5,527.6L467.0,527.4L467.5,527.5L468.0,527.4L468.5,527.5L469.0,527.5L469.5,527.5L470.0,527.6L470.5,527.4L471.0,527.4L471.5,527.5L472.0,525.7L472.5,522.9L473.0,518.4L473.5,517.1L474.0,509.9L474.5,510.2L475.0,509.7L475.5,507.4L476.0,503.8L476.5,504.4L477.0,500.4L477.5,503.0L478.0,499.8L478.5,499.6L479.0,502.4L479.5,504.8L480.0,503.4L480.5,503.9L481.0,507.6L481.5,511.5L482.0,515.8L482.5,508.4L483.0,511.4L483.5,510.1L484.0,509.2L484.5,514.4L485.0,512.9L485.5,514.2L486.0,512.6L486.5,515.2L487.0,513.2L487.5,516.8L488.0,515.9L488.5,519.1L489.0,515.4L489.5,517.6L490.0,519.0L490.5,518.6L491.0,518.0L491.5,519.5L492.0,521.0L492.5,521.7L493.0,521.2L493.5,519.9L494.0,520.5L494.5,514.7L495.0,512.1L495.5,512.7L496.0,507.9L496.5,497.2L497.0,494.7L497.5,501.9L498.0,501.6L498.5,503.0L499.0,508.8L499.5,507.7L500.0,508.8L500.5,512.0L501.0,508.5L501.5,512.6L502.0,512.1L502.5,507.7L503.0,515.6L503.5,513.3L504.0,508.2L504.5,507.7L505.0,512.5L505.5,506.6L506.0,511.1L506.5,514.4L507.0,510.1L507.5,513.5L508.0,519.3L508.5,518.5L509.0,515.5L509.5,520.2L510.0,522.4L510.5,521.1L511.0,519.3L511.5,523.1L512.0,520.3L512.5,518.7L513.0,520.0L513.5,519.5L514.0,517.3L514.5,517.1L515.0,517.8L515.5,519.5L516.0,517.2L516.5,517.2L517.0,517.0L517.5,518.2L518.0,519.0L518.5,517.3L519.0,518.4L519.5,520.0L520.0,520.8L520.5,522.1L521.0,519.8L521.5,520.2L522.0,519.7L522.5,516.5L523.0,517.5L523.5,517.8L524.0,516.9L524.5,515.9L525.0,512.5L525.5,510.6L526.0,507.9L526.5,501.1L527.0,500.0L527.5,499.3L528.0,499.1L528.5,493.6L529.0,495.1L529.5,493.3L530.0,494.5L530.5,497.3L531.0,492.1L531.5,491.8L532.0,496.3L532.5,492.2L533.0,493.8L533.5,499.5L534.0,499.6L534.5,496.8L535.0,499.4L535.5,497.9L536.0,500.5L536.5,505.2L537.0,499.7L537.5,503.9L538.0,507.2L538.5,510.3L539.0,514.7L539.5,514.6L540.0,515.2L540.5,519.2L541.0,522.9L541.5,523.1L542.0,524.3L542.5,526.4L543.0,525.8L543.5,526.0L544.0,526.4L544.5,526.7L545.0,527.0L545.5,527.4L546.0,527.5L546.5,527.6L547.0,527.4L547.5,527.5L548.0,527.6L548.5,527.5L549.0,527.5L549.5,527.6L550.0,527.5L550.5,527.5L551.0,527.5L551.5,527.4L552.0,527.5L552.5,527.5L553.0,527.6L553.5,527.6L554.0,527.6L554.5,527.5L555.0,527.4L555.5,527.5L556.0,527.5L556.5,527.5L557.0,527.6L557.5,527.5L558.0,527.5L558.5,527.5L559.0,527.5L559.5,527.5L560.0,527.5L560.5,527.5L561.0,527.5L561.5,527.6L562.0,527.5L562.5,527.5L563.0,527.5L563.5,527.5L564.0,527.4L564.5,527.5L565.0,527.5L565.5,527.5L566.0,527.6L566.5,527.5L567.0,527.5L567.5,527.5L568.0,527.5L568.5,527.5L569.0,527.5L569.5,527.5L570.0,527.5L570.5,527.5L571.0,527.5L571.5,527.5L572.0,527.5L572.5,527.5L573.0,527.5L573.5,527.5L574.0,527.6L574.5,527.5L575.0,527.6L575.5,527.5L576.0,527.4L576.5,527.5L577.0,527.4L577.5,527.6L578.0,527.6L578.5,527.4L579.0,527.5L579.5,527.5L580.0,527.5L580.5,527.6L581.0,527.5L581.5,527.4L582.0,527.5L582.5,527.5L583.0,527.5L583.5,527.6L584.0,527.5L584.5,527.2L585.0,526.8L585.5,526.9L586.0,526.6L586.5,526.5L587.0,525.6L587.5,526.0L588.0,525.8L588.5,526.6L589.0,526.6L589.5,526.9L590.0,527.1L590.5,527.4L591.0,527.5L591.5,527.5L592.0,527.5L592.5,527.4L593.0,527.6L593.5,527.5L594.0,527.6L594.5,527.5L595.0,527.5L595.5,527.5L596.0,527.5L596.5,527.6L597.0,527.4L597.5,527.6L598.0,527.5L598.5,527.6L599.0,527.5L599.5,527.6L600.0,527.5L600.5,527.5L601.0,527.5L601.5,527.4L602.0,527.5L602.5,527.5L603.0,527.5L603.5,527.6L604.0,527.5L604.5,527.5L605.0,527.5L605.5,527.5L606.0,527.5L606.5,527.5L607.0,527.5L607.5,527.5L608.0,527.5L608.5,527.4L609.0,527.5L609.5,527.5L610.0,527.5L610.5,527.5L611.0,527.5L611.5,527.5L612.0,527.5L612.5,527.5L613.0,527.5L613.5,527.5L614.0,527.5L614.5,527.6L615.0,527.5L615.5,527.6L616.0,527.5L616.5,527.5L617.0,527.5L617.5,527.5L618.0,527.6L618.5,527.5L619.0,527.4L619.5,527.5L620.0,527.5L620.5,527.6L621.0,527.4L621.5,527.5L622.0,527.6L622.5,527.5L623.0,527.5L623.5,527.6L624.0,527.5L624.5,527.4L625.0,527.5L625.5,527.5L626.0,527.5L626.5,524.7L627.0,520.0L627.5,517.2L628.0,515.3L628.5,514.1L629.0,511.3L629.5,510.7L630.0,513.8L630.5,513.4L631.0,516.1L631.5,518.9L632.0,519.8L632.5,523.1L633.0,526.6L633.5,527.4L634.0,527.5L634.5,527.5L635.0,527.6L635.5,527.6L636.0,527.5L636.5,527.5L637.0,527.5L637.5,527.5L638.0,527.5L638.5,527.5L639.0,527.5L639.5,527.4L640.0,527.6L640.5,527.5L641.0,527.6L641.5,527.4L642.0,527.5L642.5,527.5L643.0,527.6L643.5,527.5L644.0,527.5L644.5,527.5L645.0,527.5L645.5,527.6L646.0,527.5L646.5,527.4L647.0,527.5L647.5,527.5L648.0,527.5L648.5,527.5L649.0,527.6L649.5,527.6L650.0,527.5L650.5,527.5L651.0,527.5L651.5,527.6L652.0,527.5L652.5,527.5L653.0,527.5L653.5,527.5L654.0,527.4L654.5,527.6L655.0,527.6L655.5,527.6L656.0,527.5L656.5,527.4L657.0,527.5L657.5,527.5L658.0,527.5L658.5,527.6L659.0,527.5L659.5,527.5L660.0,527.5L660.5,527.4L661.0,527.5L661.5,527.5L662.0,527.5L662.5,527.6L663.0,527.5L663.5,527.4L664.0,527.5L664.5,527.6L665.0,527.5L665.5,527.5L666.0,527.5L666.5,527.5L667.0,527.5L667.5,527.6L668.0,527.4L668.5,527.5L669.0,527.5L669.5,527.5L670.0,527.6L670.5,527.5L671.0,527.4L671.5,527.6L672.0,527.5L672.5,527.5L673.0,527.5L673.5,527.4L674.0,527.4L674.5,527.5L675.0,527.4L675.5,527.5L676.0,527.6L676.5,527.5L677.0,527.5L677.5,527.5L678.0,527.4L678.5,527.4L679.0,527.5L679.5,527.5L680.0,527.5L680.5,527.5L681.0,527.6L681.5,527.5L682.0,527.6L682.5,527.6L683.0,527.5L683.5,527.6L684.0,527.5L684.5,527.6L685.0,527.6L685.5,527.5L686.0,526.7L686.5,524.6L687.0,523.4L687.5,520.9L688.0,521.8L688.5,518.7L689.0,517.8L689.5,514.3L690.0,512.6L690.5,511.6L691.0,512.2L691.5,511.7L692.0,510.7L692.5,503.7L693.0,502.6L693.5,503.8L694.0,510.3L694.5,507.4L695.0,499.3L695.5,494.9L696.0,491.5L696.5,487.1L697.0,481.1L697.5,478.2L698.0,478.7L698.5,479.7L699.0,485.3L699.5,480.2L700.0,474.5L700.5,468.3L701.0,463.0L701.5,464.8L702.0,458.5L702.5,456.5L703.0,455.8L703.5,451.3L704.0,451.5L704.5,445.2L705.0,444.1L705.5,438.8L706.0,436.0L706.5,436.4L706.8,434.5L706.8,527.8Z" fill="#003299"/>
<clipPath id="cp"><rect x="413.5" y="246.5" width="293.3" height="281.29999999999995"/></clipPath>
<path d="M413.5,392.0L414.8,390.4L413.9,407.6L413.5,403.4L415.0,420.0L415.2,422.2L416.7,408.0L414.9,407.7L416.5,392.0L417.6,391.7L418.1,405.3L418.0,407.3L418.0,421.0L419.4,424.6L417.5,410.0L419.3,416.3L418.9,406.4L420.0,405.0L419.9,411.6L419.1,408.4L421.0,424.0L421.9,424.0L420.1,416.1L422.8,420.5L422.1,406.3L423.0,410.0L423.7,415.2L424.8,400.7L425.3,407.6L423.9,397.5L425.0,399.0L423.9,403.2L424.1,396.8L425.2,410.9L426.3,400.2L427.0,408.0L427.0,410.9L428.8,404.0L427.8,418.2L428.5,416.0L428.4,412.6L428.9,421.5L428.9,407.0L431.5,414.6L430.5,408.0L430.0,406.6L432.1,414.4L432.1,410.3L432.0,418.0L432.6,423.9L433.1,416.0L433.2,426.1L433.5,424.0L434.0,421.3L434.9,427.4L435.5,418.5L435.6,426.5L435.6,414.2L436.0,421.0L435.9,424.4L435.5,416.3L436.8,429.0L438.2,419.1L438.0,426.0L438.5,428.8L437.1,421.1L437.9,428.4L438.1,420.6L440.0,421.0L440.3,425.9L440.2,419.0L442.0,427.5L440.3,420.9L442.0,426.0L443.4,431.3L442.9,420.9L443.2,433.4L443.1,423.2L444.0,432.0L444.2,439.0L445.7,427.0L444.4,437.8L446.7,426.6L446.0,440.2L446.5,430.7L447.0,436.0L447.4,440.0L448.5,432.2L449.3,440.7L447.5,432.6L449.0,440.0L448.9,445.3L448.4,434.9L449.5,447.7L450.1,437.9L450.3,448.9L451.6,438.5L452.0,444.0L452.2,446.7L453.7,436.3L452.1,445.2L453.2,440.0L454.5,430.4L453.8,429.0L454.8,440.7L454.4,446.0L454.6,439.9L455.0,452.0L455.3,457.1L456.5,443.4L456.0,448.0L456.7,454.5L455.1,449.6L457.0,466.0L458.4,470.4L458.8,460.9L457.0,469.9L458.5,469.0L458.1,463.3L459.7,468.3L458.9,454.8L460.0,458.0L459.6,463.6L460.9,452.1L461.4,457.1L462.3,445.1L462.0,446.0L461.6,451.1L463.0,437.3L461.9,444.0L463.4,433.0L464.0,436.0L464.7,440.2L465.0,431.8L465.5,437.0L465.1,425.4L465.5,434.4L466.9,424.8L467.0,428.0L467.1,434.5L467.2,419.0L466.6,424.1L467.0,410.6L468.8,419.0L469.3,412.0L468.5,404.9L469.0,408.6L469.9,394.7L471.0,393.0L472.3,396.8L472.0,366.1L472.0,348.0L472.5,352.9L471.5,356.0L473.0,372.0L471.7,375.6L472.9,358.4L474.7,358.9L474.5,345.0L475.8,343.5L473.5,361.8L474.1,364.1L476.0,378.0L475.6,383.3L476.5,363.6L475.7,362.5L477.5,344.0L477.2,343.9L479.4,358.4L478.6,361.2L479.0,375.0L479.1,378.0L478.6,359.6L480.2,361.0L480.5,350.0L481.7,345.5L480.2,363.5L482.3,365.5L482.0,378.0L480.7,378.3L482.7,364.8L481.6,363.0L482.3,346.2L484.2,345.1L484.5,331.0L484.7,329.6L486.4,348.8L486.4,350.8L486.0,370.0L485.0,374.5L485.2,371.5L485.7,387.2L488.8,383.0L487.6,395.9L488.3,395.0L489.5,387.1L488.0,388.3L490.4,366.8L489.9,366.9L491.8,349.8L490.8,349.0L489.8,357.3L492.9,353.1L493.1,370.1L492.5,375.0L491.6,370.5L492.2,387.1L494.5,384.2L492.9,398.9L494.2,398.0L493.5,386.0L494.1,386.8L496.6,368.2L494.5,371.5L496.2,351.8L496.6,352.1L497.5,339.0L498.9,337.5L498.5,359.3L498.8,361.1L499.0,380.0L497.7,385.9L500.3,383.6L499.3,399.4L501.0,393.9L500.8,404.0L502.0,405.5L501.6,387.5L502.1,393.3L501.5,374.5L503.3,377.5L503.7,359.8L503.1,363.1L504.2,354.0L505.7,356.4L504.2,374.7L506.6,379.1L506.1,399.1L506.8,396.6L506.7,408.0L505.8,408.1L506.6,392.4L508.7,396.9L508.5,385.0L509.9,382.1L510.3,393.2L509.4,389.3L510.0,397.0L508.8,400.1L511.3,399.0L511.6,414.0L512.9,406.1L511.1,421.7L512.5,424.0L513.2,419.5L512.6,407.7L514.1,382.2L512.7,371.1L513.4,340.4L514.7,339.0L516.3,355.7L516.1,365.9L516.0,390.0L515.5,396.5L516.3,391.6L516.3,410.5L517.5,415.0L517.6,411.9L517.6,422.9L518.1,415.2L518.6,427.9L520.9,423.5L520.0,432.0L519.3,436.8L519.2,425.8L521.3,438.7L520.1,428.2L523.1,439.0L524.0,430.7L523.8,439.3L523.3,439.0L522.7,430.8L523.4,431.3L524.4,411.9L525.0,409.0L526.2,412.0L526.9,398.6L527.3,400.9L526.3,381.3L527.8,385.7L528.1,371.5L527.6,371.2L528.3,364.0L529.9,363.2L529.1,380.6L530.1,379.7L530.0,395.0L530.0,397.7L530.5,396.5L529.6,411.9L532.8,412.1L531.7,419.0L533.3,420.6L531.5,408.3L533.7,420.0L532.9,406.0L534.0,409.0L533.6,414.3L534.4,403.0L533.9,409.9L536.4,398.7L536.0,405.0L536.4,411.2L535.8,401.7L536.0,414.4L537.7,405.5L538.0,410.0L538.0,412.7L537.4,383.4L538.2,376.7L540.1,343.6L539.8,339.0L540.4,351.6L540.9,365.4L540.3,402.9L541.5,420.0L541.5,415.9L541.1,431.1L541.3,424.3L543.4,436.6L543.5,430.6L545.2,446.4L544.6,441.2L544.8,447.0L544.8,448.5L544.3,433.6L545.3,438.9L545.3,424.3L547.0,425.0L547.4,431.4L548.9,416.0L547.3,424.9L547.2,413.5L547.7,421.9L550.4,409.4L549.7,418.2L549.9,407.9L550.7,408.0L552.3,414.0L550.3,410.8L552.1,425.7L553.9,420.5L553.0,430.0L554.3,434.7L553.0,427.7L552.7,440.9L555.8,429.2L555.7,444.0L555.8,436.8L556.7,446.1L556.5,445.0L555.5,441.9L558.1,449.9L557.7,445.2L558.7,454.1L558.8,449.0L559.0,454.0L560.3,455.9L558.4,444.0L558.9,446.7L559.0,430.2L561.0,430.0L561.5,437.2L561.0,419.7L562.3,425.0L561.0,406.7L561.6,414.1L562.6,396.8L564.0,396.5L565.0,403.9L563.7,397.8L565.2,414.7L564.9,411.6L566.0,425.0L566.8,431.2L565.8,423.6L565.5,438.5L567.3,428.9L566.6,445.1L568.2,440.0L569.5,434.2L569.4,445.9L568.6,440.5L569.8,444.0L569.6,444.2L570.3,432.9L570.0,434.3L570.7,417.2L570.6,423.4L573.6,408.2L574.3,413.2L573.2,405.0L574.0,404.1L573.1,416.0L575.3,407.5L574.6,417.8L574.4,413.8L575.8,423.5L576.5,422.0L577.9,418.9L575.7,435.5L577.8,432.2L577.9,446.8L578.2,445.0L577.5,432.6L578.2,435.7L579.6,418.2L579.8,417.0L578.8,421.1L581.6,416.1L579.9,425.9L582.7,416.8L581.9,427.3L582.3,417.8L582.4,426.6L583.2,424.0L582.9,420.3L582.8,425.5L584.4,417.2L585.6,423.6L584.7,414.7L586.0,422.6L586.7,414.9L586.7,421.4L587.3,416.0L588.6,415.7L588.3,424.4L587.1,419.9L587.7,429.7L590.0,426.6L589.5,435.5L591.5,429.8L590.7,437.0L590.9,442.0L592.7,431.1L593.3,438.6L591.4,430.1L593.0,432.0L592.3,438.3L593.2,431.3L594.3,441.4L595.5,435.5L595.2,448.9L594.9,440.8L595.7,447.0L597.3,452.3L596.6,446.9L597.9,454.4L596.4,449.6L598.0,455.0L597.2,458.6L599.2,455.1L598.3,467.7L598.5,460.7L599.8,466.0L599.4,466.0L601.2,455.7L601.2,466.8L601.4,453.5L602.0,455.0L601.6,458.2L603.2,446.5L602.5,458.0L602.9,445.5L604.0,450.0L603.2,453.4L603.6,446.7L605.7,454.5L605.8,444.4L607.1,453.4L605.6,441.0L607.0,446.0L607.7,450.9L608.5,441.0L608.5,448.7L608.8,439.8L609.2,449.1L608.1,439.0L609.3,447.0L609.2,438.1L610.7,441.0L609.6,446.3L611.3,440.4L610.9,448.8L612.6,440.6L613.0,448.0L611.6,454.4L614.1,444.4L614.5,455.4L615.1,445.3L613.7,457.7L615.6,449.1L615.7,456.0L617.3,463.1L616.0,453.9L617.8,466.4L618.6,456.2L618.6,467.0L617.2,458.0L619.0,467.0L619.8,471.7L620.0,462.2L621.4,471.7L620.7,460.5L621.0,465.0L621.0,467.9L620.8,464.2L622.5,473.2L622.0,465.7L621.9,474.0L623.2,474.0L624.8,468.8L624.4,473.6L623.8,461.2L624.8,466.5L625.0,453.8L625.7,459.0L625.8,445.8L627.1,402.0L626.4,376.8L626.4,331.7L627.7,323.0L626.7,347.2L627.9,362.9L629.8,402.7L628.7,419.5L629.8,440.0L630.5,446.1L629.4,429.1L629.5,434.2L631.2,430.0L630.9,420.2L631.9,424.6L632.5,413.0L632.7,410.0L634.2,426.0L633.3,423.8L634.0,440.0L633.2,440.5L634.3,430.6L635.9,434.0L635.4,417.2L636.0,414.0L635.5,420.9L637.2,412.9L638.2,429.0L637.0,426.1L638.0,438.0L637.6,441.1L638.8,425.1L640.1,426.3L639.5,411.0L640.3,410.6L639.8,425.6L639.1,425.4L641.0,438.0L640.7,438.8L640.5,428.5L641.9,433.9L641.9,417.8L643.0,416.0L643.0,420.1L643.3,415.1L644.3,432.5L644.3,424.5L645.0,436.0L644.5,439.4L646.0,417.6L646.0,407.0L647.2,411.4L645.6,410.7L648.2,432.0L648.5,430.7L648.0,446.0L647.5,447.6L649.0,436.7L648.3,440.3L649.5,430.0L649.8,427.0L651.5,442.4L650.1,435.0L650.8,443.0L652.4,447.3L651.8,437.2L652.7,447.3L653.2,437.1L653.0,441.0L653.8,447.3L652.8,438.8L654.3,446.6L654.3,438.1L655.0,447.0L655.1,450.0L655.5,440.4L655.3,450.4L655.5,438.0L657.0,447.4L657.5,442.0L658.3,438.8L656.6,448.9L657.6,438.8L658.5,451.6L659.0,440.1L660.0,447.0L658.7,451.5L661.8,441.2L660.2,452.9L662.7,443.8L662.7,453.1L662.5,449.0L662.8,442.0L662.1,455.3L663.1,444.5L664.2,454.7L664.6,445.5L665.0,452.0L665.2,457.9L666.6,446.3L666.3,458.3L665.3,445.0L666.3,457.6L667.5,451.0L666.6,446.6L667.1,458.9L669.1,450.1L668.2,457.4L668.4,450.1L670.0,455.0L668.8,462.1L671.5,451.9L670.8,462.4L670.5,454.7L671.3,462.6L671.2,457.0L672.3,465.7L673.3,462.0L672.7,454.8L673.9,463.9L674.1,454.6L673.6,462.9L675.5,458.0L675.7,454.1L677.4,460.0L678.0,450.7L677.0,456.0L678.3,462.5L678.0,440.7L679.5,441.0L678.3,430.0L678.0,429.9L677.8,450.1L680.2,449.2L679.6,455.0L678.9,457.1L681.2,445.1L681.0,450.0L680.6,456.2L682.4,446.1L682.2,456.5L682.5,452.0L682.1,445.5L683.3,451.9L682.5,438.0L685.1,441.5L684.2,435.0L684.7,417.5L685.0,420.7L685.5,400.0L685.9,395.2L686.2,387.4L686.9,357.8L686.7,356.0L687.2,370.9L688.8,362.8L688.0,380.0L688.0,384.5L689.9,376.4L688.6,389.6L689.2,387.0L688.6,381.7L690.3,393.9L690.3,375.5L692.5,392.3L692.1,373.7L691.7,383.0L691.8,397.0L691.2,385.8L693.0,400.0L694.3,404.5L693.3,402.1L694.8,417.7L694.2,416.0L694.2,401.7L696.4,406.6L696.5,381.2L696.0,380.0L694.7,385.8L696.6,362.3L696.2,369.2L697.5,350.0L698.4,349.1L698.0,369.0L698.6,365.4L699.0,385.0L700.4,392.1L699.8,389.4L700.0,410.0L700.8,410.8L699.5,397.2L702.5,402.4L701.5,390.0L702.6,383.7L700.9,385.2L701.4,365.1L703.0,360.0L704.4,367.5L703.0,343.8L704.8,352.8L703.5,330.3L704.7,332.0L704.3,344.9L704.5,344.8L705.7,355.0L706.7,365.2L706.1,364.5" fill="none" stroke="#007816" stroke-width="4.6" stroke-linejoin="round" stroke-linecap="round" clip-path="url(#cp)"/>
<text x="401.3" y="531.0" class="a" text-anchor="end">0</text>
<text x="717.6" y="531.0" class="a">0</text>
<text x="401.3" y="502.9" class="a" text-anchor="end">10</text>
<text x="717.6" y="502.9" class="a">2</text>
<text x="401.3" y="474.7" class="a" text-anchor="end">20</text>
<text x="717.6" y="474.7" class="a">4</text>
<text x="401.3" y="446.6" class="a" text-anchor="end">30</text>
<text x="717.6" y="446.6" class="a">6</text>
<text x="401.3" y="418.5" class="a" text-anchor="end">40</text>
<text x="717.6" y="418.5" class="a">8</text>
<text x="401.3" y="390.3" class="a" text-anchor="end">50</text>
<text x="717.6" y="390.3" class="a">10</text>
<text x="401.3" y="362.2" class="a" text-anchor="end">60</text>
<text x="717.6" y="362.2" class="a">12</text>
<text x="401.3" y="334.1" class="a" text-anchor="end">70</text>
<text x="717.6" y="334.1" class="a">14</text>
<text x="401.3" y="306.0" class="a" text-anchor="end">80</text>
<text x="717.6" y="306.0" class="a">16</text>
<text x="401.3" y="277.8" class="a" text-anchor="end">90</text>
<text x="717.6" y="277.8" class="a">18</text>
<text x="401.3" y="249.7" class="a" text-anchor="end">100</text>
<text x="717.6" y="249.7" class="a">20</text>
<text x="399.9" y="545.3" class="a" textLength="26.8" lengthAdjust="spacing">2013</text>
<text x="489.8" y="545.3" class="a" textLength="26.8" lengthAdjust="spacing">2016</text>
<text x="579.6" y="545.3" class="a" textLength="26.8" lengthAdjust="spacing">2019</text>
<text x="669.6" y="545.3" class="a" textLength="26.8" lengthAdjust="spacing">2022</text>
<rect x="412.5" y="130.0" width="10.3" height="10.8" fill="#003299"/>
<text x="432.8" y="139.0" class="a" textLength="30.5" lengthAdjust="spacing">&lt;0.95</text>
<rect x="412.5" y="147.2" width="10.3" height="10.8" fill="#FFB400"/>
<text x="432.8" y="156.2" class="a" textLength="33.3" lengthAdjust="spacing">0.95-1</text>
<rect x="412.5" y="164.4" width="10.3" height="10.8" fill="#FF4B00"/>
<text x="432.8" y="173.4" class="a" textLength="34.7" lengthAdjust="spacing">1-1.05</text>
<rect x="412.5" y="181.6" width="10.3" height="10.8" fill="#65B800"/>
<text x="432.8" y="190.6" class="a" textLength="43" lengthAdjust="spacing">1.05-1.1</text>
<rect x="412.5" y="198.8" width="10.3" height="10.8" fill="#00B1EA"/>
<text x="432.8" y="207.8" class="a" textLength="22.2" lengthAdjust="spacing">&gt;1.1</text>
<rect x="412.5" y="219.4" width="12" height="3.7" fill="#007816"/>
<text x="432.5" y="224.8" class="a" textLength="251" lengthAdjust="spacing">One-month implied volatility (right-hand scale)</text>
</svg></body></html>
